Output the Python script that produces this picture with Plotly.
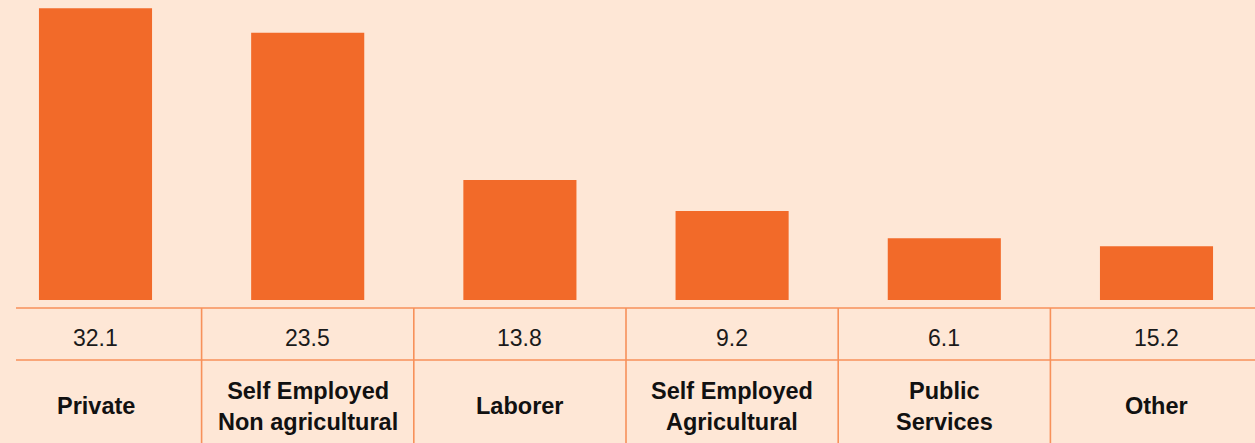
import plotly.graph_objects as go

categories = ["Private", "Self Employed<br>Non agricultural", "Laborer",
              "Self Employed<br>Agricultural", "Public<br>Services", "Other"]
table_values = [32.1, 23.5, 13.8, 9.2, 6.1, 15.2]
bar_heights = [32.1, 29.4, 13.2, 9.8, 6.8, 5.9]

BG = "#FEE7D6"
BAR = "#F26A29"
LINE = "#F7915A"

W, H = 1255, 443
PLOT_H = 300
idx = list(range(len(categories)))

fig = go.Figure()
fig.add_trace(go.Bar(x=idx, y=bar_heights, marker=dict(color=BAR, line=dict(width=0)),
                     width=0.533, hoverinfo="skip"))

def py(px):
    return (PLOT_H - px) / PLOT_H

shapes = []
# horizontal rules
for ypx in (308, 360):
    shapes.append(dict(type="line", xref="paper", yref="paper", x0=16 / W, x1=1.0,
                       y0=py(ypx), y1=py(ypx), line=dict(color=LINE, width=1.6)))
# vertical separators
for i in idx[:-1]:
    shapes.append(dict(type="line", xref="x", yref="paper", x0=i + 0.5, x1=i + 0.5,
                       y0=py(308), y1=py(H + 2), line=dict(color=LINE, width=1.6)))

annotations = []
for i, (c, v) in enumerate(zip(categories, table_values)):
    annotations.append(dict(x=i, y=py(338), xref="x", yref="paper", text=f"{v:.1f}",
                            showarrow=False, xanchor="center", yanchor="middle",
                            font=dict(family="Liberation Sans, Arial, sans-serif",
                                      size=23, color="#1a1a1a")))
    annotations.append(dict(x=i, y=py(406), xref="x", yref="paper", text=f"<b>{c}</b>",
                            showarrow=False, xanchor="center", yanchor="middle",
                            font=dict(family="Liberation Sans, Arial, sans-serif",
                                      size=23.5, color="#111111")))

step = 212.2
fig.update_layout(
    width=W, height=H,
    margin=dict(l=0, r=0, t=0, b=H - PLOT_H, pad=0),
    paper_bgcolor=BG, plot_bgcolor=BG,
    showlegend=False,
    xaxis=dict(range=[-95.5 / step, 5 + (W - 1156.5) / step], showticklabels=False,
               showgrid=False, zeroline=False, showline=False, ticks=""),
    yaxis=dict(range=[0, 33.0], showticklabels=False, showgrid=False, zeroline=False,
               showline=False, ticks=""),
    shapes=shapes, annotations=annotations,
)

fig.write_html("out.html", config={"displayModeBar": False},
               post_script="document.body.style.margin='0';document.body.style.padding='0';document.body.style.background='" + BG + "';")
